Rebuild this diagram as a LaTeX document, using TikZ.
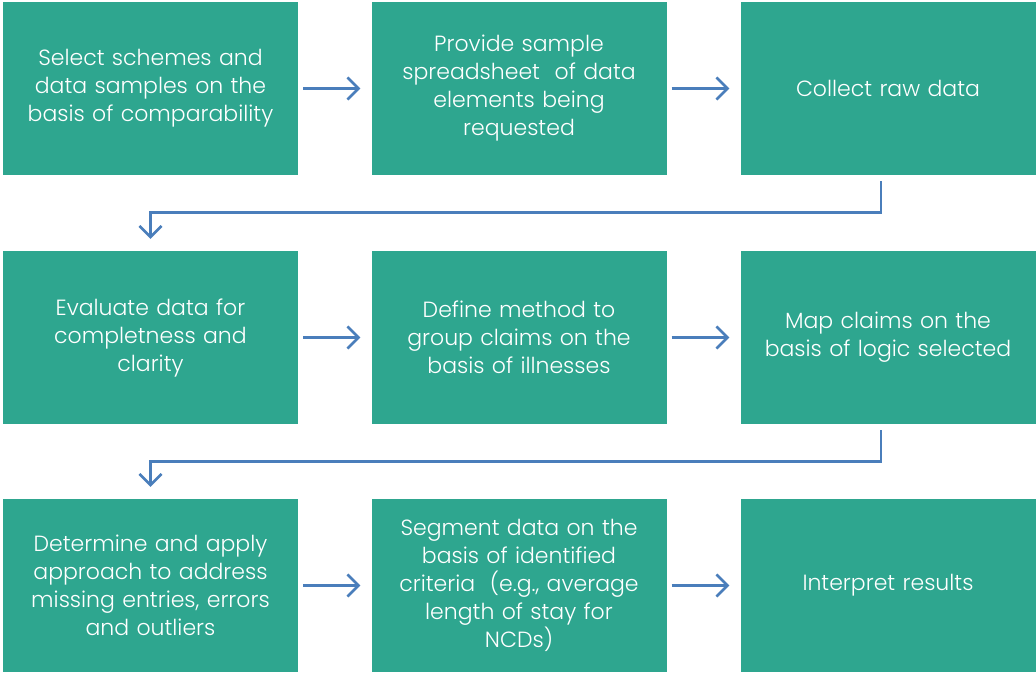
\documentclass[tikz,border=0pt]{standalone}
\usepackage{fontspec}
\setmainfont{Poppins Light}
\usetikzlibrary{arrows.meta}
\definecolor{boxteal}{HTML}{2EA68F}
\definecolor{flowblue}{HTML}{4A7EBB}
\tikzset{
  stepbox/.style={fill=boxteal, draw=none, minimum width=295pt, minimum height=173pt,
    inner sep=0pt, text=white, align=center, text width=292pt,
    font=\fontsize{22}{28}\selectfont},
  flow/.style={draw=flowblue, line width=2.6pt,
    -{Straight Barb[length=11pt,width=22pt,line width=2.6pt]}},
}
\begin{document}
\begin{tikzpicture}[x=1pt,y=-1pt]
\useasboundingbox (0,0) rectangle (1036,675);
% row 1
\node[stepbox] (s1) at (150.5,88.5) {Select schemes and\\data samples on the\\basis of comparability};
\node[stepbox] (s2) at (519,88.5) {Provide sample\\spreadsheet\ \ of data\\elements being\\requested};
\node[stepbox] (s3) at (888,88.5) {Collect raw data};
% row 2
\node[stepbox] (s4) at (150.5,337.5) {Evaluate data for\\completness and\\clarity};
\node[stepbox] (s5) at (519,337.5) {Define method to\\group claims on the\\basis of illnesses};
\node[stepbox] (s6) at (888,337.5) {Map claims on the\\basis of logic selected};
% row 3
\node[stepbox] (s7) at (150.5,585.5) {Determine and apply\\approach to address\\missing entries, errors\\and outliers};
\node[stepbox] (s8) at (519,585.5) {Segment data on the\\basis of identified\\criteria\ \ (e.g., average\\length of stay for\\NCDs)};
\node[stepbox] (s9) at (888,585.5) {Interpret results};
% horizontal links
\draw[flow] ([xshift=5pt]s1.east) -- ([xshift=-11pt]s2.west);
\draw[flow] ([xshift=5pt]s2.east) -- ([xshift=-11pt]s3.west);
\draw[flow] ([xshift=5pt]s4.east) -- ([xshift=-11pt]s5.west);
\draw[flow] ([xshift=5pt]s5.east) -- ([xshift=-11pt]s6.west);
\draw[flow] ([xshift=5pt]s7.east) -- ([xshift=-11pt]s8.west);
\draw[flow] ([xshift=5pt]s8.east) -- ([xshift=-11pt]s9.west);
% row-to-row links (y axis points down, so shifts are negated)
\coordinate (a1) at ([xshift=-7pt,yshift=-6pt]s3.south);
\coordinate (b1) at ([yshift=12pt]s4.north);
\draw[flow] (a1) |- ([yshift=-37pt]s1.south) -| (b1);
\coordinate (a2) at ([xshift=-7pt,yshift=-6pt]s6.south);
\coordinate (b2) at ([yshift=12pt]s7.north);
\draw[flow] (a2) |- ([yshift=-37pt]s4.south) -| (b2);
\end{tikzpicture}
\end{document}
